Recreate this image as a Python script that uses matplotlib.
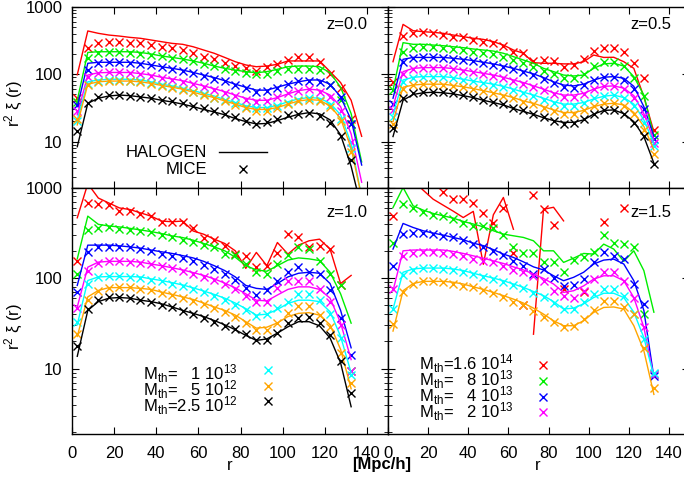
import numpy as np
import matplotlib
matplotlib.use('Agg')
import matplotlib.pyplot as plt
from matplotlib.ticker import LogLocator, NullFormatter

plt.rcParams['font.family'] = ['Liberation Sans', 'DejaVu Sans']
plt.rcParams['mathtext.fontset'] = 'custom'
plt.rcParams['mathtext.rm'] = 'Liberation Sans'
plt.rcParams['mathtext.it'] = 'Liberation Sans:italic'
plt.rcParams['font.size'] = 12

nan = np.nan
r = np.arange(2.5, 140, 5)   # bin centres, 2.5 .. 137.5

colors = ['#ff0000', '#00ee00', '#0000ff', '#ff00ff', '#00ffff', '#ffa500', '#000000']
mth_labels = [r'M$_{\rm th}$=1.6 10$^{14}$', r'M$_{\rm th}$=   8 10$^{13}$',
              r'M$_{\rm th}$=   4 10$^{13}$', r'M$_{\rm th}$=   2 10$^{13}$',
              r'M$_{\rm th}$=   1 10$^{13}$', r'M$_{\rm th}$=   5 10$^{12}$',
              r'M$_{\rm th}$=2.5 10$^{12}$']

# ---- z = 0.0 ----
halo_z00 = [
  [98, 437, 403, 380, 367, 351, 340, 321, 303, 286, 277, 255, 228, 204, 177, 153, 137, 129, 132, 140, 157, 157, 157, 157, 109, 75, 41, 12],
  [41, 210, 215, 215, 215, 215, 210, 199, 186, 177, 168, 157, 145, 132, 122, 115, 109, 105, 109, 118, 129, 132, 132, 129, 105, 64, 26, 5.0],
  [33, 145, 150, 150, 150, 150, 145, 137, 129, 122, 115, 106, 97, 89, 80, 71, 64, 58, 58, 64, 71, 77, 82, 82, 71, 46, 21, 4.5],
  [25, 97, 105, 106, 106, 106, 102, 97, 90, 85, 80, 73, 67, 61, 55, 49, 44, 41, 41, 45, 51, 57, 60, 58, 49, 33, 13, 2.5],
  [21, 77, 82, 84, 84, 84, 82, 77, 71, 67, 62, 57, 52, 47.5, 42, 38, 34, 32, 32, 34.5, 39, 43, 45, 44, 37, 25, 9.4, 1.5],
  [17.7, 71, 77, 79, 79, 79, 77, 73, 68, 64, 60, 54, 49, 45, 40, 36, 32, 30, 30, 32, 36, 40, 42, 41, 34, 22, 8, 1.5],
  [8.4, 37, 44, 47.5, 49, 48, 46, 44, 41, 38.7, 36, 33, 30, 27.5, 25, 22, 19.8, 18.3, 18.6, 20.5, 23, 25.4, 26.9, 25.8, 21, 12.6, 4.3, 1.0],
]
mice_z00 = [
  [45, 241, 286, 296, 303, 293, 286, 271, 255, 241, 228, 208, 182, 166, 145, 132, 122, 111, 129, 140, 162, 182, 177, 153, 100, 62, 22, nan],
  [39, 172, 205, 210, 210, 205, 200, 195, 183, 175, 165, 155, 143, 130, 120, 112, 104, 100, 102, 110, 118, 120, 120, 115, 69, 42, 18, nan],
  [35, 115, 145, 150, 150, 148, 143, 135, 128, 120, 112, 104, 95, 86, 78, 70, 62, 55, 56, 63, 72, 78, 80, 77, 68, 46, 18, nan],
  [28, 90, 105, 108, 108, 105, 100, 95, 88, 83, 77, 71, 65, 59, 53, 47, 42, 39, 40, 46, 53, 57, 60, 55, 46, 28, 10, nan],
  [20, 72, 80, 82, 82, 80, 78, 74, 69, 65, 60, 55, 50, 45, 41, 37, 33, 31, 31, 34, 38, 42, 44, 42, 35, 22, 8, nan],
  [22, 70, 76, 78, 79, 78, 76, 72, 67, 63, 59, 54, 49, 44, 40, 35, 31, 28, 28, 31, 36, 40, 42, 40, 33, 20, 7, nan],
  [14.6, 37, 46, 49, 49, 48, 46, 44.5, 42, 39.5, 37, 34, 31, 28, 25.3, 23, 20, 18.2, 19.3, 22, 24.5, 26, 26.5, 24, 19, 12, 5.3, nan],
]

# ---- z = 0.5 ----
halo_z05 = [
  [153, 547, 441, 426, 417, 403, 380, 360, 340, 328, 303, 270, 228, 204, 148, 145, 145, 142, 142, 153, 192, 177, 178, 153, 122, 46, 14, nan],
  [58, 293, 277, 277, 270, 264, 255, 247, 236, 228, 220, 204, 182, 162, 145, 122, 109, 97, 94, 97, 122, 142, 145, 132, 92, 49, 12, nan],
  [44, 166, 177, 177, 177, 177, 172, 166, 159, 150, 142, 132, 122, 111, 101, 89, 77, 69, 67, 71, 82, 90, 92, 87, 66, 33, 12, nan],
  [33, 109, 122, 125, 125, 125, 121, 115, 109, 103, 97, 90, 82, 75, 67, 60, 53, 49, 49, 52, 60, 66, 67, 62, 48, 26, 10.6, nan],
  [25, 82, 90, 92, 92, 92, 89, 84, 79, 75, 71, 66, 60, 54, 49, 44, 39, 36, 36, 38, 43, 47, 49, 45, 36, 21, 9.4, nan],
  [19.8, 64, 69, 71, 71, 71, 68, 65, 61, 57, 53, 49, 45, 40, 37, 33, 29.5, 27, 27, 29, 33, 36, 37, 35, 27, 16.8, 7.5, nan],
  [11.9, 41, 50, 53, 54, 53, 51, 48, 45, 41, 38, 35, 31, 28, 25.4, 22.6, 20.5, 19.3, 19.3, 21, 25.6, 29, 29.5, 26, 19.8, 11.9, 4.8, nan],
]
mice_z05 = [
  [77, 367, 403, 417, 403, 380, 360, 351, 321, 303, 286, 262, 215, 204, 159, 162, 159, 129, 137, 166, 223, 247, 241, 214, 145, 87, 15, nan],
  [59, 215, 247, 250, 250, 241, 236, 228, 215, 208, 197, 182, 162, 148, 129, 112, 100, 89, 89, 100, 134, 150, 150, 134, 89, 48, 12.5, nan],
  [36, 150, 172, 177, 177, 172, 168, 161, 155, 146, 138, 128, 118, 106, 96, 86, 74, 64, 62, 68, 82, 92, 92, 82, 60, 30, 11, nan],
  [29, 100, 120, 125, 125, 122, 118, 112, 106, 100, 94, 87, 80, 72, 65, 58, 51, 46, 46, 51, 61, 67, 67, 61, 45, 24, 9.5, nan],
  [23, 77, 88, 91, 92, 90, 87, 82, 78, 73, 69, 64, 58, 53, 48, 42, 37, 34, 34, 38, 44, 48, 49, 44, 34, 19, 8.5, nan],
  [18, 60, 68, 71, 71, 70, 67, 64, 60, 56, 52, 48, 44, 39, 36, 32, 28, 26, 26, 29, 34, 37, 37, 34, 26, 15, 6.5, nan],
  [15.8, 44, 52, 55, 55, 54, 52, 49, 46, 42, 39, 36, 32, 29, 26, 23, 20.5, 18.5, 18.8, 21.5, 26, 29, 29, 26, 19, 12, 4.6, nan],
]

# ---- z = 1.0 ----
halo_z10 = [
  [463, 1100, 765, 674, 595, 571, 525, 483, 426, 419, 426, 331, 305, 269, 241, 200, 128, 192, 137, 247, 184, 231, 258, 269, 209, 87, 107, nan],
  [163, 483, 392, 376, 367, 354, 340, 326, 310, 292, 280, 262, 241, 221, 200, 170, 137, 123, 119, 137, 158, 167, 163, 156, 116, 67, 31.8, nan],
  [83, 231, 231, 231, 227, 221, 214, 204, 195, 187, 177, 167, 153, 137, 121, 103, 83, 77, 75, 87, 103, 113, 116, 113, 87, 44, 17, nan],
  [48, 132, 150, 153, 153, 153, 150, 143, 137, 130, 123, 115, 107, 98, 88, 78, 67, 57, 56, 65, 75, 80, 80, 75, 60, 32, 12.6, nan],
  [30.5, 94, 103, 104, 104, 104, 103, 98, 94, 89, 84, 78, 72, 66, 60, 53, 46, 39, 40, 45, 52.5, 57, 57, 55, 42.5, 22.7, 9, nan],
  [22.7, 62, 73, 78.5, 78.5, 78.5, 77, 75, 70, 66, 62, 58, 53, 48, 44, 39, 33, 28, 28.7, 32, 37.6, 40.8, 41.5, 39, 30.5, 16.3, 6, nan],
  [13.7, 44, 55, 60, 61, 60, 57, 55, 52, 48, 44, 40.8, 37.6, 34, 30.5, 26.9, 23.3, 20.5, 21.3, 24.7, 29, 33, 33, 29.7, 21.8, 11.6, 3.8, nan],
]
mice_z10 = [
  [156, 674, 663, 637, 556, 556, 512, 483, 419, 419, 419, 354, 275, 262, 227, 184, 177, 132, 137, 187, 305, 285, 218, 227, 209, 83, nan, nan],
  [110, 337, 354, 367, 352, 337, 331, 322, 298, 283, 266, 250, 233, 222, 184, 181, 143, 116, 111, 143, 181, 218, 209, 156, 111, 83, 9.4, nan],
  [70, 192, 218, 221, 221, 218, 209, 200, 184, 177, 167, 153, 141, 126, 111, 96, 77, 65, 73, 94, 116, 134, 116, 111, 73, 36, 14, nan],
  [47, 120, 148, 155, 155, 152, 148, 142, 135, 128, 120, 112, 104, 95, 86, 76, 64, 54, 54, 77, 93, 93, 92, 75, 55, 30, 9.5, nan],
  [33, 85, 102, 106, 106, 104, 101, 96, 92, 86, 81, 76, 70, 64, 57, 51, 44, 38, 40, 47, 55, 67, 67, 57, 40, 22, 8.6, nan],
  [24, 58, 72, 78, 80, 79, 76, 73, 69, 65, 61, 56, 52, 47, 42, 37, 32, 27, 27, 32, 41, 49, 49, 39, 29, 15, 7, nan],
  [17.7, 45, 57, 62, 62, 60.5, 58, 55, 51, 47.5, 43.6, 39.8, 36.6, 33, 29.7, 27.3, 24.3, 20.9, 20.9, 25, 31.8, 36.6, 37.6, 31.8, 23.7, 12.1, 5.4, nan],
]

# ---- z = 1.5 (no 2.5e12 sample) ----
halo_z15 = [
  [nan, nan, 1200, 935, 743, 638, 548, 466, 545, 142, 500, 776, 346, nan, 24, 575, 605, 428, nan, nan, nan, nan, nan, nan, nan, nan, nan, nan],
  [601, 1000, 628, 563, 517, 487, 459, 422, 395, 368, 333, 306, 293, 281, 258, 200, 200, 149, 166, 187, 184, 237, 209, 153, 200, 121, 42, nan],
  [209, 401, 362, 333, 314, 298, 281, 265, 243, 228, 206, 184, 169, 151, 133, 123, 106, 93.5, 102, 116, 143, 158, 162, 143, 93.5, 44, 8, nan],
  [72.5, 200, 204, 204, 204, 204, 197, 187, 176, 166, 155, 145, 133, 123, 111, 99, 86, 69.5, 72.5, 82, 97.5, 106, 106, 93.5, 61, 28.6, 8, nan],
  [45.5, 116, 126, 129, 129, 129, 126, 121, 113, 106, 100, 93.5, 86, 79, 71, 64, 55, 45.5, 46.6, 52, 61, 68, 68, 61, 42, 22, 8.3, nan],
  [26, 72.5, 87, 92, 92, 92, 90, 86, 80, 75, 69.5, 64, 58.6, 53, 46.6, 40, 33.8, 29.8, 29.8, 33.8, 41.8, 47.4, 48, 45.5, 29.8, 15.8, 5.2, nan],
  None,
]
mice_z15 = [
  [479, nan, nan, nan, nan, 900, 743, 743, 671, 521, 401, 601, 187, 50, 826, 583, 387, 75, nan, 70, nan, 411, nan, 595, nan, nan, nan, nan],
  [247, 655, 591, 543, 500, 487, 448, 401, 378, 378, 356, 300, 222, 187, 187, 149, 149, 116, 158, 172, 192, 300, 247, 237, 222, 40, 8.7, nan],
  [137, 306, 311, 311, 306, 293, 281, 262, 237, 222, 200, 181, 153, 137, 111, 126, 100, 82, 84, 97.5, 149, 192, 176, 162, 87, 52, 8.4, nan],
  [76, 176, 187, 192, 192, 187, 184, 176, 162, 155, 149, 137, 122, 116, 106, 93.5, 72.5, 64, 60, 72.5, 97.5, 118, 116, 93.5, 61, 28.6, 8.7, nan],
  [46, 108, 124, 130, 130, 127, 123, 118, 111, 104, 98, 91, 84, 77, 69, 62, 53, 45, 45, 54, 66, 76, 76, 64, 40, 21, 9, nan],
  [31, 71, 87, 92, 92, 90, 87, 82, 79, 74, 68, 62, 55, 50, 43, 37.5, 33, 29, 29.8, 35, 44, 56, 56, 48, 40, 16.9, 6.1, nan],
  None,
]

W, H = 684, 482
fig = plt.figure(figsize=(W / 100, H / 100), dpi=100)

def add_panel(x0, x1, y0, y1):
  return fig.add_axes([x0 / W, 1 - y1 / H, (x1 - x0) / W, (y1 - y0) / H])

ax_tl = add_panel(72, 388, 6.7, 187.5)
ax_tr = add_panel(388, 689, 6.7, 187.5)
ax_bl = add_panel(72, 388, 187.5, 434)
ax_br = add_panel(388, 689, 187.5, 434)

panels = [(ax_tl, halo_z00, mice_z00, 'z=0.0', 2.09),
          (ax_tr, halo_z05, mice_z05, 'z=0.5', 2.09),
          (ax_bl, halo_z10, mice_z10, 'z=1.0', 1.9),
          (ax_br, halo_z15, mice_z15, 'z=1.5', 1.9)]

for ax, halo, mice, ztxt, ymin in panels:
  for i in range(7):
    if halo[i] is None:
      continue
    ax.plot(r, halo[i], '-', color=colors[i], lw=1.0)
    ax.plot(r, mice[i], 'x', color=colors[i], ms=5.5, mew=1.0)
  ax.set_yscale('log')
  ax.set_xlim(0, 150)
  ax.set_ylim(ymin, 1000)
  ax.set_xticks(range(0, 141, 20))
  ax.set_yticks([10, 100, 1000], ['10', '100', '1000'])
  ax.yaxis.set_minor_locator(LogLocator(base=10, subs=np.arange(2, 10)))
  ax.yaxis.set_minor_formatter(NullFormatter())
  ax.tick_params(which='both', direction='in', top=True, right=True, pad=7)
  ax.tick_params(which='major', length=5)
  ax.tick_params(which='minor', length=3)
  ax.tick_params(axis='x', pad=9)
  for s in ax.spines.values():
    s.set_linewidth(1.0)
  ax.text(0.94 if ax in (ax_tr, ax_br) else 0.934, 0.9, ztxt, transform=ax.transAxes,
          ha='right', va='center')

for ax in (ax_tl, ax_tr):
  ax.tick_params(axis='x', labelbottom=False)
for ax in (ax_tr, ax_br):
  ax.tick_params(axis='y', labelleft=False)

# HALOGEN / MICE key
ax_tl.text(0.427, 0.169, 'HALOGEN', transform=ax_tl.transAxes, ha='right', va='baseline')
ax_tl.text(0.427, 0.075, 'MICE', transform=ax_tl.transAxes, ha='right', va='baseline')
ax_tl.plot([0.465, 0.617], [0.196, 0.196], '-', color='black', lw=1.0, transform=ax_tl.transAxes)
ax_tl.plot([0.541], [0.102], 'x', color='black', ms=5.5, mew=1.0, transform=ax_tl.transAxes)

# threshold-mass keys
for j, i in enumerate([4, 5, 6]):
  ax_bl.text(0.225, 0.219 - 0.065 * j, mth_labels[i], transform=ax_bl.transAxes, va='baseline')
  ax_bl.plot([0.62], [0.259 - 0.063 * j], 'x', color=colors[i], ms=5.5, mew=1.0,
             transform=ax_bl.transAxes)
for j, i in enumerate([0, 1, 2, 3]):
  ax_br.text(0.103, 0.26 - 0.064 * j, mth_labels[i], transform=ax_br.transAxes, va='baseline')
  ax_br.plot([0.515], [0.28 - 0.064 * j], 'x', color=colors[i], ms=5.5, mew=1.0,
             transform=ax_br.transAxes)

fig.text(14 / W, 1 - 104 / H, r'r$^2$ ξ (r)', rotation=90, ha='center', va='center')
fig.text(14 / W, 1 - 327 / H, r'r$^2$ ξ (r)', rotation=90, ha='center', va='center')
fig.text(230 / W, 1 - 466 / H, 'r', ha='center', va='center')
fig.text(538 / W, 1 - 466 / H, 'r', ha='center', va='center')
fig.text(382 / W, 1 - 464 / H, '[Mpc/h]', ha='center', va='center', fontweight='bold')

fig.savefig('out.png', dpi=100)
